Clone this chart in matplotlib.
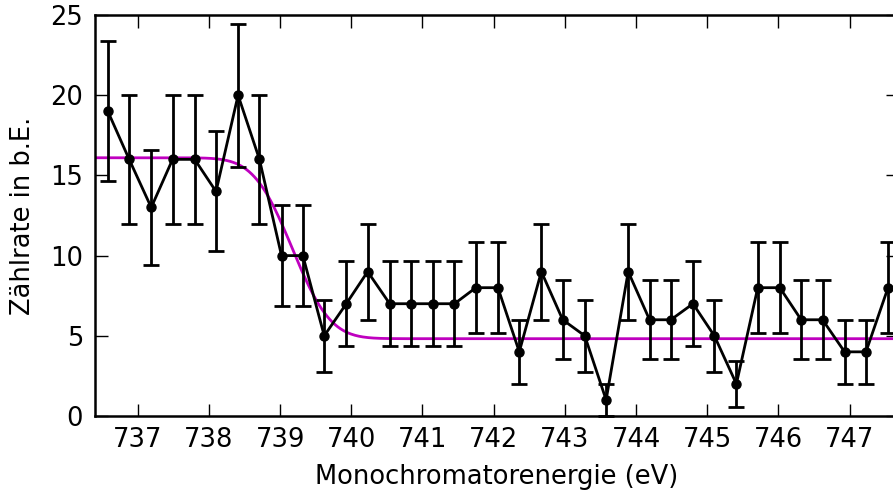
import matplotlib
matplotlib.use("Agg")
import matplotlib.pyplot as plt
import numpy as np
from math import erf

plt.rcParams['font.family'] = ['DejaVu Sans']
plt.rcParams['font.size'] = 18.5

# measured points (energy in eV, counts, error)
energie = [736.58, 736.88, 737.19, 737.49, 737.80, 738.10, 738.41, 738.71,
           739.02, 739.32, 739.62, 739.93, 740.23, 740.54, 740.84, 741.15,
           741.45, 741.75, 742.06, 742.36, 742.67, 742.97, 743.28, 743.58,
           743.89, 744.19, 744.49, 744.80, 745.10, 745.41, 745.71, 746.02,
           746.32, 746.62, 746.93, 747.23, 747.54]
zaehlrate = [19, 16, 13, 16, 16, 14, 20, 16,
             10, 10, 5, 7, 9, 7, 7, 7,
             7, 8, 8, 4, 9, 6, 5, 1,
             9, 6, 6, 7, 5, 2, 8, 8,
             6, 6, 4, 4, 8]
fehler = [4.36, 4.0, 3.61, 4.0, 4.0, 3.74, 4.47, 4.0,
          3.16, 3.16, 2.24, 2.65, 3.0, 2.65, 2.65, 2.65,
          2.65, 2.83, 2.83, 2.0, 3.0, 2.45, 2.24, 1.0,
          3.0, 2.45, 2.45, 2.65, 2.24, 1.41, 2.83, 2.83,
          2.45, 2.45, 2.0, 2.0, 2.83]

# step fit parameters (erf step)
fit_oben = 16.1
fit_unten = 4.82
fit_x0 = 739.17
fit_breite = 0.6

xmin, xmax = 736.4, 747.68

fig = plt.figure(figsize=(8.93, 4.96), dpi=100)
ax = fig.add_axes([95 / 893, 80 / 496, (898 - 95) / 893, 401 / 496])

xf = np.linspace(xmin, xmax, 600)
yf = np.array([fit_unten + (fit_oben - fit_unten) / 2 * (1 - erf((x - fit_x0) / fit_breite))
               for x in xf])
ax.plot(xf, yf, color='#bf00bf', lw=2, zorder=2)

ax.errorbar(energie, zaehlrate, yerr=fehler, fmt='o-', color='k', ms=6.5,
            lw=2, elinewidth=2, capsize=5.5, capthick=2, zorder=3,
            clip_on=False)

ax.set_xlim(xmin, xmax)
ax.set_ylim(0, 25)
ax.set_xticks(range(737, 748))
ax.set_yticks(range(0, 26, 5))
ax.tick_params(direction='in', top=True, right=True, length=9, width=1,
               labelsize=18.5)
ax.tick_params(axis='x', pad=8)
ax.tick_params(axis='y', pad=8.5)
for s in ax.spines.values():
    s.set_linewidth(1.8)

ax.set_xlabel('Monochromatorenergie (eV)', fontsize=18.5, labelpad=8)
ax.set_ylabel('Zählrate in b.E.', fontsize=18.5, labelpad=10)

plt.savefig('out.png', dpi=100)
